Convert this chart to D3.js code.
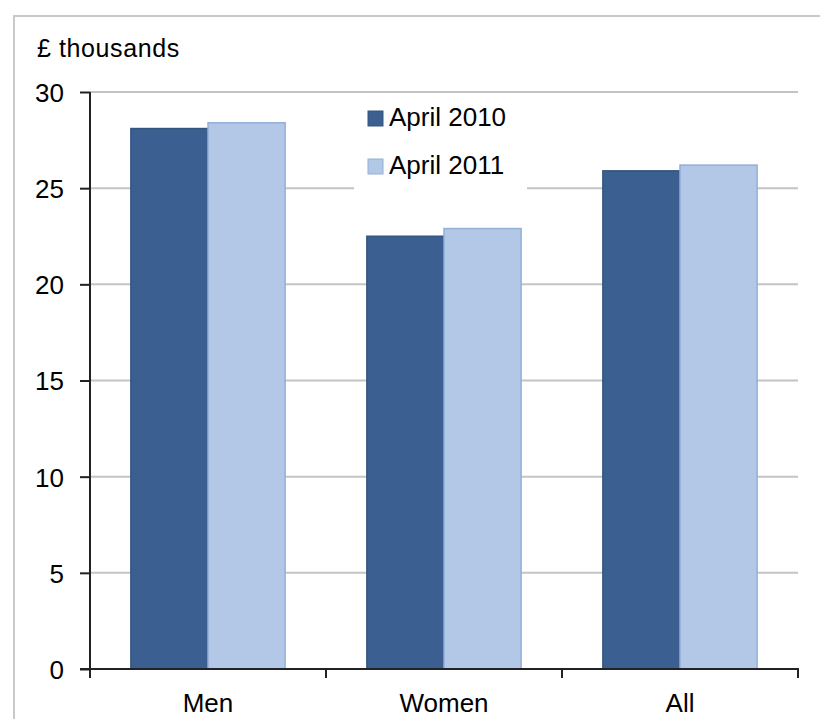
<!DOCTYPE html>
<html>
<head>
<meta charset="utf-8">
<script src="https://cdn.jsdelivr.net/npm/d3@7"></script>
<style>
  html, body { margin: 0; padding: 0; background: #fff; }
  svg { display: block; }
  text { font-family: "Liberation Sans", Arial, sans-serif; fill: #000; }
</style>
</head>
<body>
<svg id="chart" width="820" height="719"></svg>
<script>
// Median gross annual earnings, full-time employees (£ thousands)
const categories = ["Men", "Women", "All"];
const series = ["April 2010", "April 2011"];
const april2010 = [28.1, 22.5, 25.9];
const april2011 = [28.4, 22.9, 26.2];
const yTicks = [0, 5, 10, 15, 20, 25, 30];
const unitLabel = "£ thousands";

const seriesValues = [april2010, april2011];
const colors = ["#3B5F90", "#B3C7E6"];
const strokes = ["#34557f", "#93AFD8"];

const svg = d3.select("#chart");
const W = 820, H = 719;
const plot = { left: 90, right: 798, top: 92, bottom: 669 };

// Outer frame
svg.append("path")
  .attr("d", `M14,${H} L14,16 L${W},16`)
  .attr("fill", "none")
  .attr("stroke", "#c9c9c9")
  .attr("stroke-width", 2);

const y = d3.scaleLinear().domain([0, 30]).range([plot.bottom, plot.top]);
const x0 = d3.scaleBand().domain(categories).range([plot.left, plot.right]).padding(0);
const x1 = d3.scaleBand().domain(series).range([0, x0.bandwidth()])
  .paddingInner(0).paddingOuter(0.53);

// Gridlines
svg.append("g").selectAll("line")
  .data(yTicks.filter(t => t > 0))
  .join("line")
  .attr("x1", plot.left).attr("x2", plot.right)
  .attr("y1", d => y(d)).attr("y2", d => y(d))
  .attr("stroke", "#c4c4c4")
  .attr("stroke-width", 2);

// Bars
const rows = categories.map((c, i) => ({
  category: c,
  values: series.map((s, j) => ({ series: s, idx: j, value: seriesValues[j][i] }))
}));

svg.append("g").selectAll("g")
  .data(rows)
  .join("g")
  .attr("transform", d => `translate(${x0(d.category)},0)`)
  .selectAll("rect")
  .data(d => d.values)
  .join("rect")
  .attr("x", d => x1(d.series))
  .attr("y", d => y(d.value))
  .attr("width", x1.bandwidth())
  .attr("height", d => y(0) - y(d.value))
  .attr("fill", d => colors[d.idx])
  .attr("stroke", d => strokes[d.idx])
  .attr("stroke-width", 1.5);

// Y axis
const yAxis = d3.axisLeft(y).tickValues(yTicks).tickSize(10).tickPadding(16).tickFormat(d3.format("d"));
const gy = svg.append("g").attr("transform", `translate(${plot.left},0)`).call(yAxis);
gy.select(".domain").attr("stroke", "#222").attr("stroke-width", 2)
  .attr("d", `M0,${plot.top}V${plot.bottom + 9}`);
gy.selectAll(".tick line").attr("stroke", "#222").attr("stroke-width", 2);
gy.selectAll(".tick text")
  .style("font-family", "'Liberation Sans', Arial, sans-serif")
  .style("font-size", "26px").attr("fill", "#000").attr("dy", "0.36em");

// X axis with ticks at category boundaries
svg.append("line")
  .attr("x1", plot.left - 10).attr("x2", plot.right + 1)
  .attr("y1", plot.bottom).attr("y2", plot.bottom)
  .attr("stroke", "#222").attr("stroke-width", 2);
const boundaries = categories.map(c => x0(c) + x0.bandwidth());
svg.append("g").selectAll("line")
  .data(boundaries)
  .join("line")
  .attr("x1", d => d).attr("x2", d => d)
  .attr("y1", plot.bottom).attr("y2", plot.bottom + 9)
  .attr("stroke", "#222").attr("stroke-width", 2);
svg.append("g").selectAll("text")
  .data(categories)
  .join("text")
  .attr("x", d => x0(d) + x0.bandwidth() / 2)
  .attr("y", 712)
  .attr("text-anchor", "middle")
  .style("font-size", "26px")
  .text(d => d);

// Unit label
svg.append("text")
  .attr("x", 37).attr("y", 57)
  .style("font-size", "25px")
  .style("letter-spacing", "0.6px")
  .text(unitLabel);

// Legend
const legend = svg.append("g");
legend.append("rect")
  .attr("x", 354).attr("y", 97).attr("width", 173).attr("height", 96)
  .attr("fill", "#fff");
const li = legend.selectAll("g.item")
  .data(series)
  .join("g")
  .attr("class", "item")
  .attr("transform", (d, i) => `translate(368,${111 + i * 48})`);
li.append("rect")
  .attr("width", 15).attr("height", 15)
  .attr("fill", (d, i) => colors[i])
  .attr("stroke", (d, i) => strokes[i]).attr("stroke-width", 1);
li.append("text")
  .attr("x", 21).attr("y", 15)
  .style("font-size", "26px")
  .text(d => d);
</script>
</body>
</html>
